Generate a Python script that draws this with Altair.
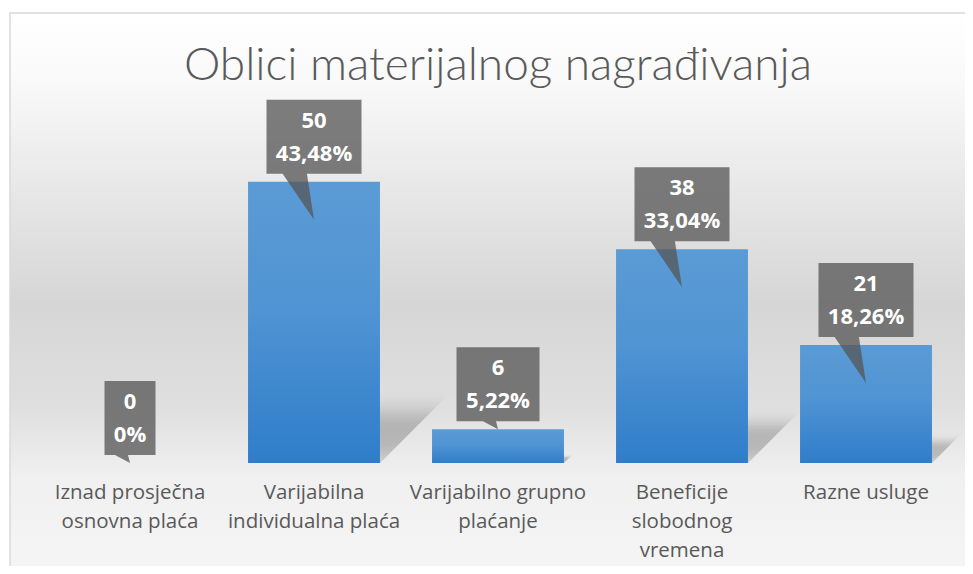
import altair as alt
import pandas as pd

title_text = "Oblici materijalnog nagrađivanja"
categories = [
    "Iznad prosječna|osnovna plaća",
    "Varijabilna|individualna plaća",
    "Varijabilno grupno|plaćanje",
    "Beneficije|slobodnog|vremena",
    "Razne usluge",
]
counts = [0, 50, 6, 38, 21]
percents = ["0%", "43,48%", "5,22%", "33,04%", "18,26%"]

# layout constants
W, H = 920, 360
Y_MAX = 64
PX = H / Y_MAX
BAR_HALF = 66
SHADOW_STEPS = [1.0, 0.93, 0.86, 0.79, 0.72]

char_w = {d: 12.6 for d in "0123456789"}
char_w.update({",": 6.2, "%": 18.8})

rows = []
for c, v, p in zip(categories, counts, percents):
    tw = max(sum(char_w.get(ch, 12) for ch in p), sum(char_w.get(ch, 12) for ch in str(v)))
    w = round(tw + 20)
    hw = w / 2
    if v >= 10:
        callout = f"M{-hw},-82H{hw}V-8H{-0.075 * w:.1f}L0,38L{-0.33 * w:.1f},-8H{-hw}Z"
    else:
        callout = f"M{-hw},-82H{hw}V-8H-2L0,0L-15,-8H{-hw}Z"
    s = 0.26 * v * PX
    row = {"cat": c, "count": v, "label": f"{v}\n{p}", "callout": callout, "base": 0}
    for i, k in enumerate(SHADOW_STEPS):
        sk = s * k
        row[f"sh{i}"] = (f"M{-BAR_HALF},0L{BAR_HALF},0L{BAR_HALF + sk:.1f},{-sk:.1f}"
                         f"L{-BAR_HALF + sk:.1f},{-sk:.1f}Z")
    rows.append(row)
df = pd.DataFrame(rows)

yscale = alt.Scale(domain=[0, Y_MAX], nice=False, zero=True)
xenc = alt.X(
    "cat:N", sort=categories,
    scale=alt.Scale(paddingInner=0.283, paddingOuter=0.1415),
    axis=alt.Axis(title=None, labelExpr="split(datum.label, '|')", labelAngle=0,
                  ticks=False, domain=False, grid=False, labelFont="Open Sans",
                  labelFontSize=20.5, labelColor="#595959", labelLineHeight=29,
                  labelPadding=19, labelLimit=0, zindex=2),
)

bg_grad = alt.LinearGradient(
    gradient="linear", x1=0, x2=0, y1=0, y2=1,
    stops=[
        alt.GradientStop(offset=0, color="#ffffff"),
        alt.GradientStop(offset=0.12, color="#f9f9f9"),
        alt.GradientStop(offset=0.3, color="#e8e8e8"),
        alt.GradientStop(offset=0.5, color="#d6d6d6"),
        alt.GradientStop(offset=0.68, color="#dfdfdf"),
        alt.GradientStop(offset=0.8, color="#f0f0f0"),
        alt.GradientStop(offset=1, color="#f6f6f6"),
    ],
)
bar_grad = alt.LinearGradient(
    gradient="linear", x1=0, x2=0, y1=0, y2=1,
    stops=[
        alt.GradientStop(offset=0, color="#5b9bd5"),
        alt.GradientStop(offset=0.45, color="#5094d3"),
        alt.GradientStop(offset=1, color="#2f7dca"),
    ],
)
shadow_grad = alt.LinearGradient(
    gradient="linear", x1=0, x2=0, y1=0, y2=1,
    stops=[
        alt.GradientStop(offset=0, color="rgba(0,0,0,0)"),
        alt.GradientStop(offset=0.35, color="rgba(0,0,0,0.065)"),
        alt.GradientStop(offset=0.7, color="rgba(0,0,0,0.065)"),
        alt.GradientStop(offset=1, color="rgba(0,0,0,0.04)"),
    ],
)

background = alt.Chart(pd.DataFrame({"a": [0]})).mark_rect(
    fill=bg_grad, stroke="#d9d9d9", strokeWidth=1.5
).encode(
    x=alt.value(-28), x2=alt.value(980), y=alt.value(-90), y2=alt.value(490)
)

base = alt.Chart(df)

shadow_layers = []
for i in range(len(SHADOW_STEPS)):
    shadow_layers.append(
        base.transform_filter("datum.count > 0").mark_point(
            filled=True, size=4, fill=shadow_grad, strokeWidth=0
        ).encode(
            x=xenc,
            y=alt.Y("base:Q", scale=yscale, axis=None),
            shape=alt.Shape(f"sh{i}:N", scale=None, legend=None),
        )
    )

bars = base.mark_bar(fill=bar_grad).encode(
    x=xenc,
    y=alt.Y("count:Q", scale=yscale, axis=None),
)

callouts = base.mark_point(
    filled=True, size=4, fill="#555555", fillOpacity=0.76, strokeWidth=0
).encode(
    x=xenc,
    y=alt.Y("count:Q", scale=yscale, axis=None),
    shape=alt.Shape("callout:N", scale=None, legend=None),
)

labels = base.mark_text(
    font="Open Sans", fontWeight="bold", fontSize=22, color="#ffffff",
    lineBreak="\n", lineHeight=33, baseline="middle", align="center", dy=-61
).encode(
    x=xenc,
    y=alt.Y("count:Q", scale=yscale, axis=None),
    text="label:N",
)

title = alt.Chart(pd.DataFrame({"t": [title_text]})).mark_text(
    font="Lato", fontWeight=300, fontSize=46, color="#595959",
    align="center", baseline="alphabetic"
).encode(
    x=alt.value(W / 2), y=alt.value(-23), text="t:N"
)

chart = alt.layer(background, *shadow_layers, bars, callouts, labels, title).properties(
    width=W, height=H,
    autosize=alt.AutoSizeParams(type="none"),
    padding={"left": 30, "top": 95, "right": 7, "bottom": 103},
).configure_view(stroke=None).configure(background="#ffffff")

chart.save("out.html", embed_options={"renderer": "svg", "actions": False})
